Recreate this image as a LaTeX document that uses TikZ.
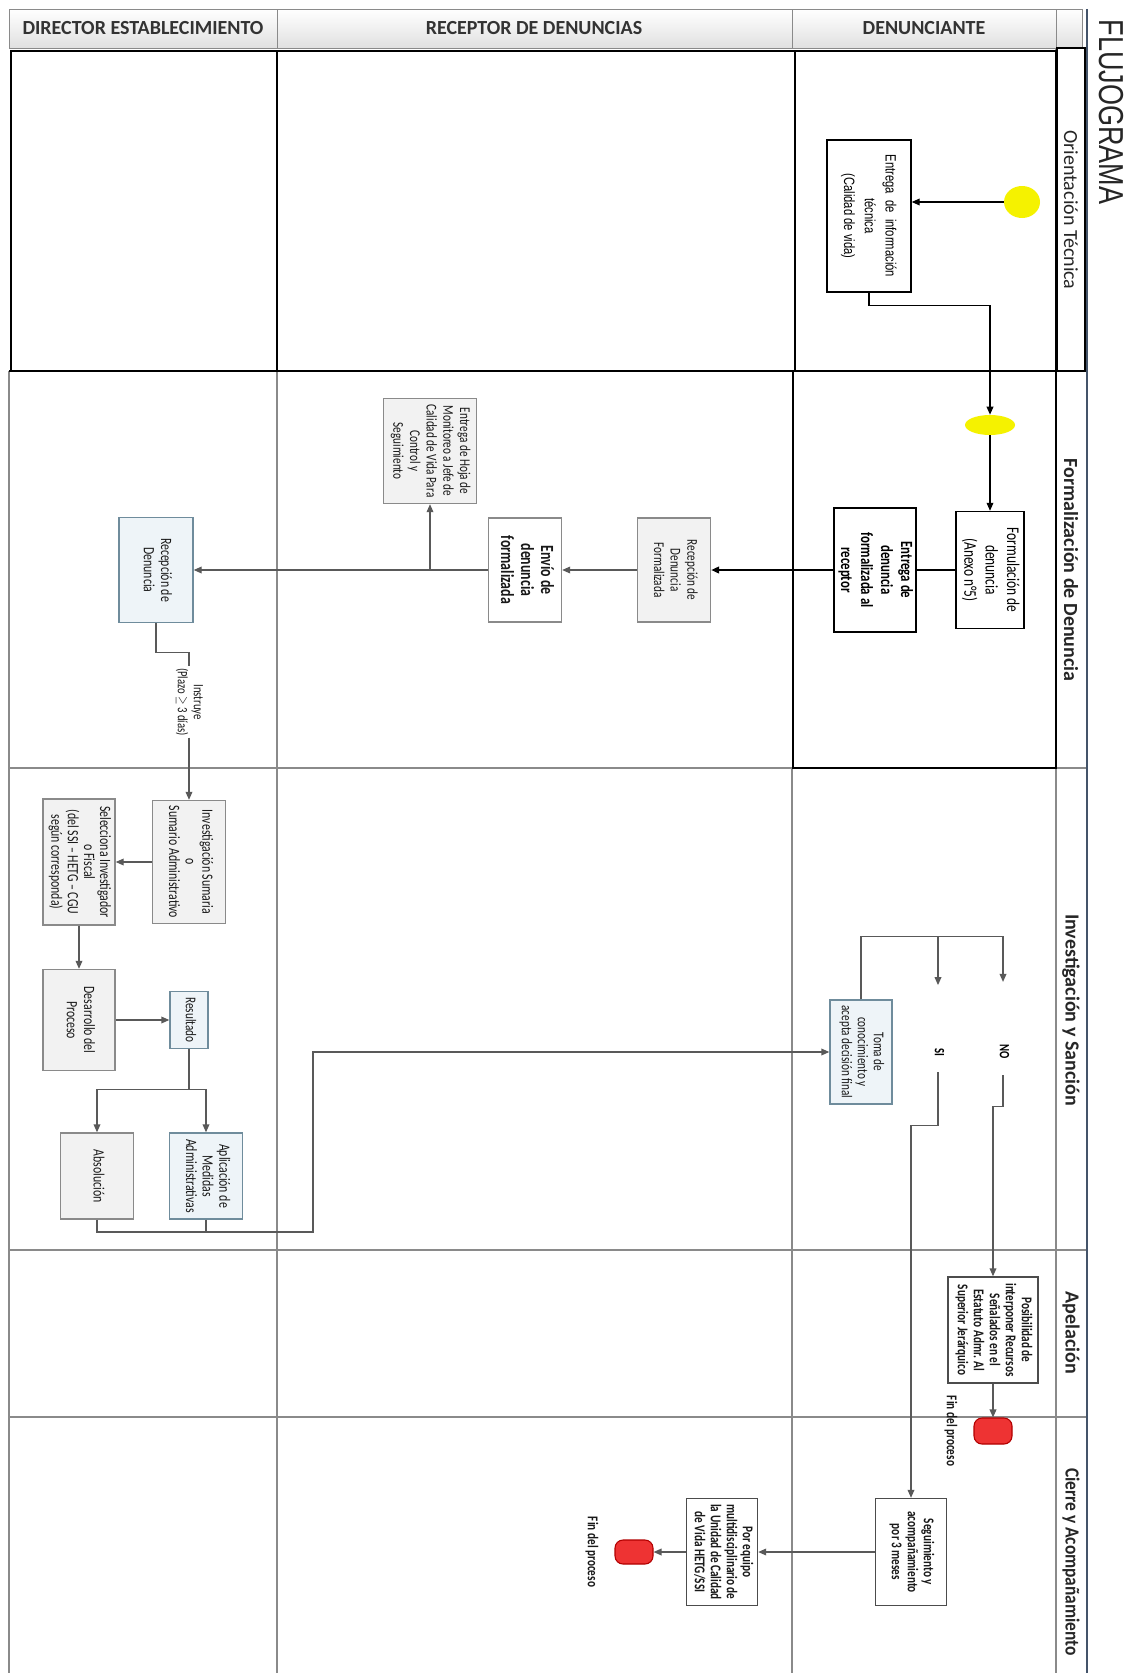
\documentclass[tikz,border=0pt]{standalone}
\usepackage{fontspec}
\setmainfont{Carlito}
\newfontfamily\arialfont{Liberation Sans}
\usepackage{graphicx}
\usetikzlibrary{positioning,calc,arrows.meta,shapes.geometric}

\definecolor{linegray}{HTML}{8A8A8A}
\definecolor{arrowgray}{HTML}{595959}
\definecolor{boxfill}{HTML}{F2F2F2}
\definecolor{bluefill}{HTML}{EEF4F8}
\definecolor{blueline}{HTML}{6F8C9C}
\definecolor{endred}{HTML}{EE3333}
\definecolor{startyellow}{HTML}{F5F200}
\definecolor{borderblue}{HTML}{44546A}

% rotated, slightly condensed text
\newcommand{\sq}{0.75}
\newcommand{\vtxt}[1]{\rotatebox{-90}{\scalebox{\sq}[1]{\begin{tabular}{@{}c@{}}#1\end{tabular}}}}

\tikzset{
  sz/.style 2 args={minimum width=#1*0.75pt, minimum height=#2*0.75pt},
  fs/.style 2 args={font=\fontsize{#1}{#2}\selectfont},
  fsb/.style 2 args={font=\bfseries\fontsize{#1}{#2}\selectfont},
  box/.style={draw=linegray, line width=1pt, fill=white, inner sep=0pt, text=black!90},
  graybox/.style={box, fill=boxfill},
  bluebox/.style={box, draw=blueline, fill=bluefill},
  blackbox/.style={box, draw=black, text=black},
  start/.style={ellipse, fill=startyellow, inner sep=0pt},
  endbox/.style={draw=red!70!black, fill=endred, rounded corners=6pt, line width=0.8pt},
  flow/.style={draw=arrowgray, line width=1pt, -{Triangle[length=6pt,width=5pt]}},
  hdr/.style={fsb={15}{18}, text=black!80},
  phase/.style={fs={15}{18}, text=black!85}
}

\begin{document}
\begin{tikzpicture}[x=0.75pt, y=-0.75pt]
    \fill[white] (0,0) rectangle (1141,1673);
    \useasboundingbox (0,0) rectangle (1141,1673);

    % Header
    \foreach \xa/\xb in {9/277, 277/792, 792/1056, 1056/1082}
        \shade[top color=white, bottom color=black!12, draw=linegray] (\xa,9) rectangle (\xb,48);
    \node[hdr] (hDir) at (143,28) {DIRECTOR ESTABLECIMIENTO};
    \node[hdr] (hRec) at (534,28) {RECEPTOR DE DENUNCIAS};
    \node[hdr] (hDen) at (924,28) {DENUNCIANTE};

    % Lanes and phases
    \draw[linegray, line width=1.2pt] (9,371) -- (9,1673);
    \draw[linegray, line width=1.2pt] (277,371) -- (277,1673);
    \draw[linegray, line width=1.2pt] (792,768) -- (792,1673);
    \foreach \ya in {768, 1250, 1417}
        \draw[linegray, line width=1.2pt] (9,\ya) -- (1086,\ya);
    \draw[linegray, line width=1pt] (1056,48) -- (1056,1673);
    \draw[linegray, line width=1pt] (1056,371) -- (1086,371);
    \draw[black, line width=1.5pt] (11,51) rectangle (1056,371);
    \draw[black, line width=1.5pt] (277,51) -- (277,371);
    \draw[black, line width=1.5pt] (795,51) -- (795,371);
    \draw[black, line width=1.5pt] (9,371) -- (793,371);
    \draw[black, line width=1.5pt] (793,371) rectangle (1056,768);
    \draw[black, line width=0.8pt] (1057,48) rectangle (1085,371);
    \draw[borderblue, line width=2.2pt] (1087,9) -- (1087,1673);

    % Phase labels
    \node[phase] (fOri) at (1071,210) {\rotatebox{-90}{Orientación Técnica}};
    \node[phase, fsb={15}{18}] (fFor) at (1071,570) {\rotatebox{-90}{Formalización de Denuncia}};
    \node[phase, fsb={15}{18}] (fInv) at (1071,1010) {\rotatebox{-90}{Investigación y Sanción}};
    \node[phase, fsb={15}{18}] (fApe) at (1071,1333) {\rotatebox{-90}{Apelación}};
    \node[phase, fsb={15}{18}] (fCie) at (1071,1562) {\rotatebox{-90}{\scalebox{0.87}[1]{Cierre y Acompañamiento}}};
    \node[font=\arialfont\fontsize{26}{30}\selectfont, text=black!85] (titulo) at (1111,112)
        {\rotatebox{-90}{\scalebox{0.78}[1]{FLUJOGRAMA}}};

    % Orientacion Tecnica
    \node[start, sz={36}{32}] (ini1) at (1022,202) {};
    \node[blackbox, sz={84}{152}, font=\arialfont\fontsize{11.2}{15.5}\selectfont] (infoT) at (869,216)
        {\vtxt{Entrega\ \ de\ \ información\\técnica\\(Calidad de vida)}};
    \draw[flow, draw=black] (ini1.west) -- (infoT.east |- ini1.west);
    \node[start, sz={50}{20}] (ini2) at (990,425) {};
    \draw[flow, draw=black] (infoT.south) -- ++(0,13) -| (ini2.north);

    % Formalizacion de Denuncia
    \node[blackbox, sz={68}{117}, fs={13.4}{16}] (formD) at (990,570)
        {\vtxt{Formulación de\\denuncia\\(Anexo n°5)}};
    \draw[flow, draw=black] (ini2.south) -- (formD.north);
    \node[blackbox, sz={82}{124}, fsb={12.8}{15}] (entD) at (875,570)
        {\vtxt{Entrega de\\denuncia\\formalizada al\\receptor}};
    \draw[black, line width=1pt] (formD.west) -- (entD.east);
    \node[graybox, sz={73}{104}, fs={11.2}{12.5}] (recepF) at (674,570)
        {\vtxt{Recepción de\\Denuncia\\Formalizada}};
    \draw[flow, draw=black, line width=1.6pt] (entD.west) -- (recepF.east);
    \node[box, sz={73}{104}, fsb={13.9}{15}] (envio) at (525,570)
        {\vtxt{Envío de\\denuncia\\formalizada}};
    \draw[flow] (recepF.west) -- (envio.east);
    \node[graybox, sz={93}{105}, fs={11.2}{12.5}] (hoja) at (430,451)
        {\vtxt{Entrega de Hoja de\\Monitoreo a Jefe de\\Calidad de Vida Para\\Control y\\Seguimiento}};
    \node[bluebox, sz={74}{105}, fs={11.8}{13}] (recepD) at (156,570)
        {\vtxt{Recepción de\\Denuncia}};
    \draw[flow] (envio.west) -- (recepD.east);
    \coordinate (split) at (hoja.south |- envio.west);
    \draw[flow] (split) -- (hoja.south);

    % Investigacion y Sancion
    \node[fs={10.7}{12}, inner sep=1pt, text=black!90] (instr) at (189,702)
        {\vtxt{Instruye\\(Plazo $\geq$ 3 días)}};
    \node[graybox, sz={73}{123}, fs={11.8}{12.5}] (invS) at (189,862)
        {\vtxt{Investigación Sumaria\\o\\Sumario Administrativo}};
    \draw[arrowgray, line width=1pt] (recepD.south) -- ++(0,29) -| (instr.north);
    \draw[flow] (instr.south) -- (invS.north);
    \node[graybox, sz={72}{126}, fs={11.8}{12}] (selInv) at (79,862)
        {\vtxt{Selecciona Investigador\\o Fiscal\\(del SSI – HETG – CGU\\según corresponda)}};
    \draw[flow] (invS.west) -- (selInv.east);
    \node[graybox, sz={72}{101}, fs={11.8}{13}] (desProc) at (79,1020)
        {\vtxt{Desarrollo del\\Proceso}};
    \draw[flow] (selInv.south) -- (desProc.north);
    \node[bluebox, sz={38}{57}, fs={11.2}{12}] (result) at (189,1020) {\vtxt{Resultado}};
    \draw[flow] (desProc.east) -- (result.west);
    \node[bluebox, sz={73}{86}, fs={11.8}{12.5}] (aplic) at (206,1176)
        {\vtxt{Aplicación de\\Medidas\\Administrativas}};
    \node[graybox, sz={73}{86}, fs={11.8}{13}] (absol) at (97,1176) {\vtxt{Absolución}};
    \draw[flow] (result.south) -- ++(0,40) -| (aplic.north);
    \draw[flow] (result.south) -- ++(0,40) -| (absol.north);
    \node[bluebox, sz={62}{104}, fs={11.2}{12}] (toma) at (861,1052)
        {\vtxt{Toma de\\conocimiento y\\acepta decisión final}};
    \coordinate (retorno) at (313,1232);
    \draw[arrowgray, line width=1pt] (aplic.south) -- (aplic.south |- retorno);
    \draw[flow] (absol.south) |- (retorno) |- (toma.west);
    \node[fsb={10.7}{12}, inner sep=0pt] (si) at (938,1052) {\vtxt{SI}};
    \node[fsb={10.7}{12}, inner sep=0pt] (no) at (1003,1052) {\vtxt{NO}};
    \draw[flow, shorten >=47pt] (toma.north) -- ++(0,-63) -| (si.north);
    \draw[flow, shorten >=47pt] (toma.north) -- ++(0,-63) -| (no.north);

    % Apelacion
    \node[box, draw=black!70, sz={90}{106}, fsb={11.2}{12}] (recurso) at (993,1330)
        {\vtxt{Posibilidad de\\interponer Recursos\\Señalados en el\\Estatuto Admr. Al\\Superior Jerárquico}};
    \draw[flow, shorten <=12pt] (no.south) -- ++(0,47) -| (recurso.north);
    \node[endbox, sz={38}{26}] (fin1) at (993,1431) {};
    \draw[flow] (recurso.south) -- (fin1.north);
    \node[fsb={11.2}{12}, text=black!90, left=8pt of fin1] (finTxt1) {\vtxt{Fin del proceso}};

    % Cierre y Acompanamiento
    \node[box, draw=black!70, sz={71}{107}, fsb={11.2}{12}] (segui) at (911,1552)
        {\vtxt{Seguimiento y\\acompañamiento\\por 3 meses}};
    \draw[flow, shorten <=12pt] (si.south) -- ++(0,69) -| (segui.north);
    \node[box, draw=black!70, sz={71}{107}, fsb={11.2}{12}] (equipo) at (722,1552)
        {\vtxt{Por equipo\\multidisciplinario de\\la Unidad de Calidad\\de Vida HETG/SSI}};
    \draw[flow] (segui.west) -- (equipo.east);
    \node[endbox, sz={38}{24}] (fin2) at (634,1552) {};
    \draw[flow] (equipo.west) -- (fin2.east);
    \node[fsb={11.2}{12}, text=black!90, left=8pt of fin2] (finTxt2) {\vtxt{Fin del proceso}};
\end{tikzpicture}
\end{document}
